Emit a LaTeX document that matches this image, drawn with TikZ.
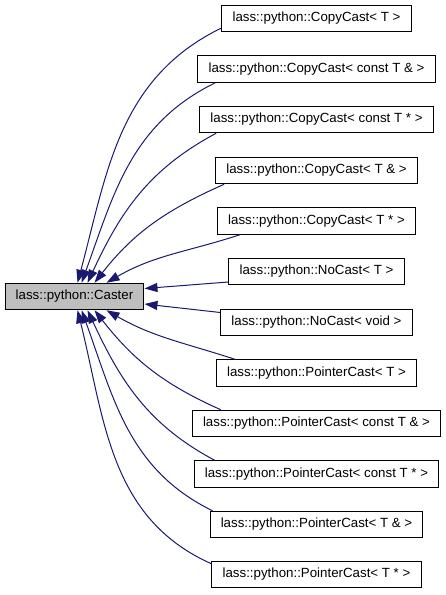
\documentclass[tikz,border=0pt]{standalone}
\usepackage{fontspec}
\setmainfont{Liberation Sans}
\usetikzlibrary{arrows.meta}
\definecolor{edgeblue}{HTML}{191970}
\definecolor{basegray}{HTML}{BFBFBF}

\begin{document}
\begin{tikzpicture}[
    x=1pt, y=1pt,
    % Class box styles
    class-box/.style={draw=black, line width=1pt, fill=white, inner xsep=10.7pt, inner ysep=0pt,
        minimum height=26.5pt, font=\fontsize{13.3pt}{15pt}\selectfont},
    base-box/.style={class-box, fill=basegray},
    % Inheritance edge
    inherit-line/.style={draw=edgeblue, line width=1pt, -{Triangle[length=13pt, width=9pt]}},
]
\useasboundingbox (0,0) rectangle (445,-595);

% === BASE CLASS ===
\node[base-box] (caster) at (74.5, -296.5) {lass::python::Caster};

% === DERIVED CLASSES ===
\node[class-box] (cc1) at (316.5, -18.5) {lass::python::CopyCast< T >};
\node[class-box] (cc2) at (316.5, -69) {lass::python::CopyCast< const T \& >};
\node[class-box] (cc3) at (316.5, -119.5) {lass::python::CopyCast< const T * >};
\node[class-box] (cc4) at (316.5, -170.5) {lass::python::CopyCast< T \& >};
\node[class-box] (cc5) at (316.5, -221) {lass::python::CopyCast< T * >};
\node[class-box] (nc1) at (316.5, -271.5) {lass::python::NoCast< T >};
\node[class-box] (nc2) at (316.5, -322.5) {lass::python::NoCast< void >};
\node[class-box] (pc1) at (316.5, -373) {lass::python::PointerCast< T >};
\node[class-box] (pc2) at (316.5, -423.5) {lass::python::PointerCast< const T \& >};
\node[class-box] (pc3) at (316.5, -474) {lass::python::PointerCast< const T * >};
\node[class-box] (pc4) at (316.5, -524.5) {lass::python::PointerCast< T \& >};
\node[class-box] (pc5) at (316.5, -574.5) {lass::python::PointerCast< T * >};

% === INHERITANCE EDGES (above the base) ===
\draw[inherit-line] ([yshift=-9.5pt]cc1.west) to[out=206, in=75] ([xshift=73pt]caster.north west);
\draw[inherit-line] ([xshift=18pt]cc2.south west) to[out=206, in=70] ([xshift=77pt]caster.north west);
\draw[inherit-line] ([xshift=17pt]cc3.south west) to[out=208, in=65] ([xshift=83pt]caster.north west);
\draw[inherit-line] ([xshift=9pt]cc4.south west) to[out=204, in=52] ([xshift=90pt]caster.north west);
\draw[inherit-line] ([xshift=23pt]cc5.south west) to[out=198, in=30] ([xshift=102pt]caster.north west);

% === INHERITANCE EDGES (beside the base) ===
\draw[inherit-line] ([yshift=-10.5pt]nc1.west) -- ([yshift=8pt]caster.east);
\draw[inherit-line] ([yshift=10pt]nc2.west) -- ([yshift=-7.5pt]caster.east);

% === INHERITANCE EDGES (below the base) ===
\draw[inherit-line] ([xshift=19pt]pc1.north west) to[out=162, in=-30] ([xshift=102pt]caster.south west);
\draw[inherit-line] ([xshift=29pt]pc2.north west) to[out=156, in=-52] ([xshift=90pt]caster.south west);
\draw[inherit-line] ([xshift=21pt]pc3.north west) to[out=152, in=-65] ([xshift=83pt]caster.south west);
\draw[inherit-line] ([xshift=3pt]pc4.north west) to[out=154, in=-70] ([xshift=77pt]caster.south west);
\draw[inherit-line] ([yshift=-3pt]pc5.north west) to[out=156, in=-76] ([xshift=73pt]caster.south west);

\end{tikzpicture}
\end{document}
